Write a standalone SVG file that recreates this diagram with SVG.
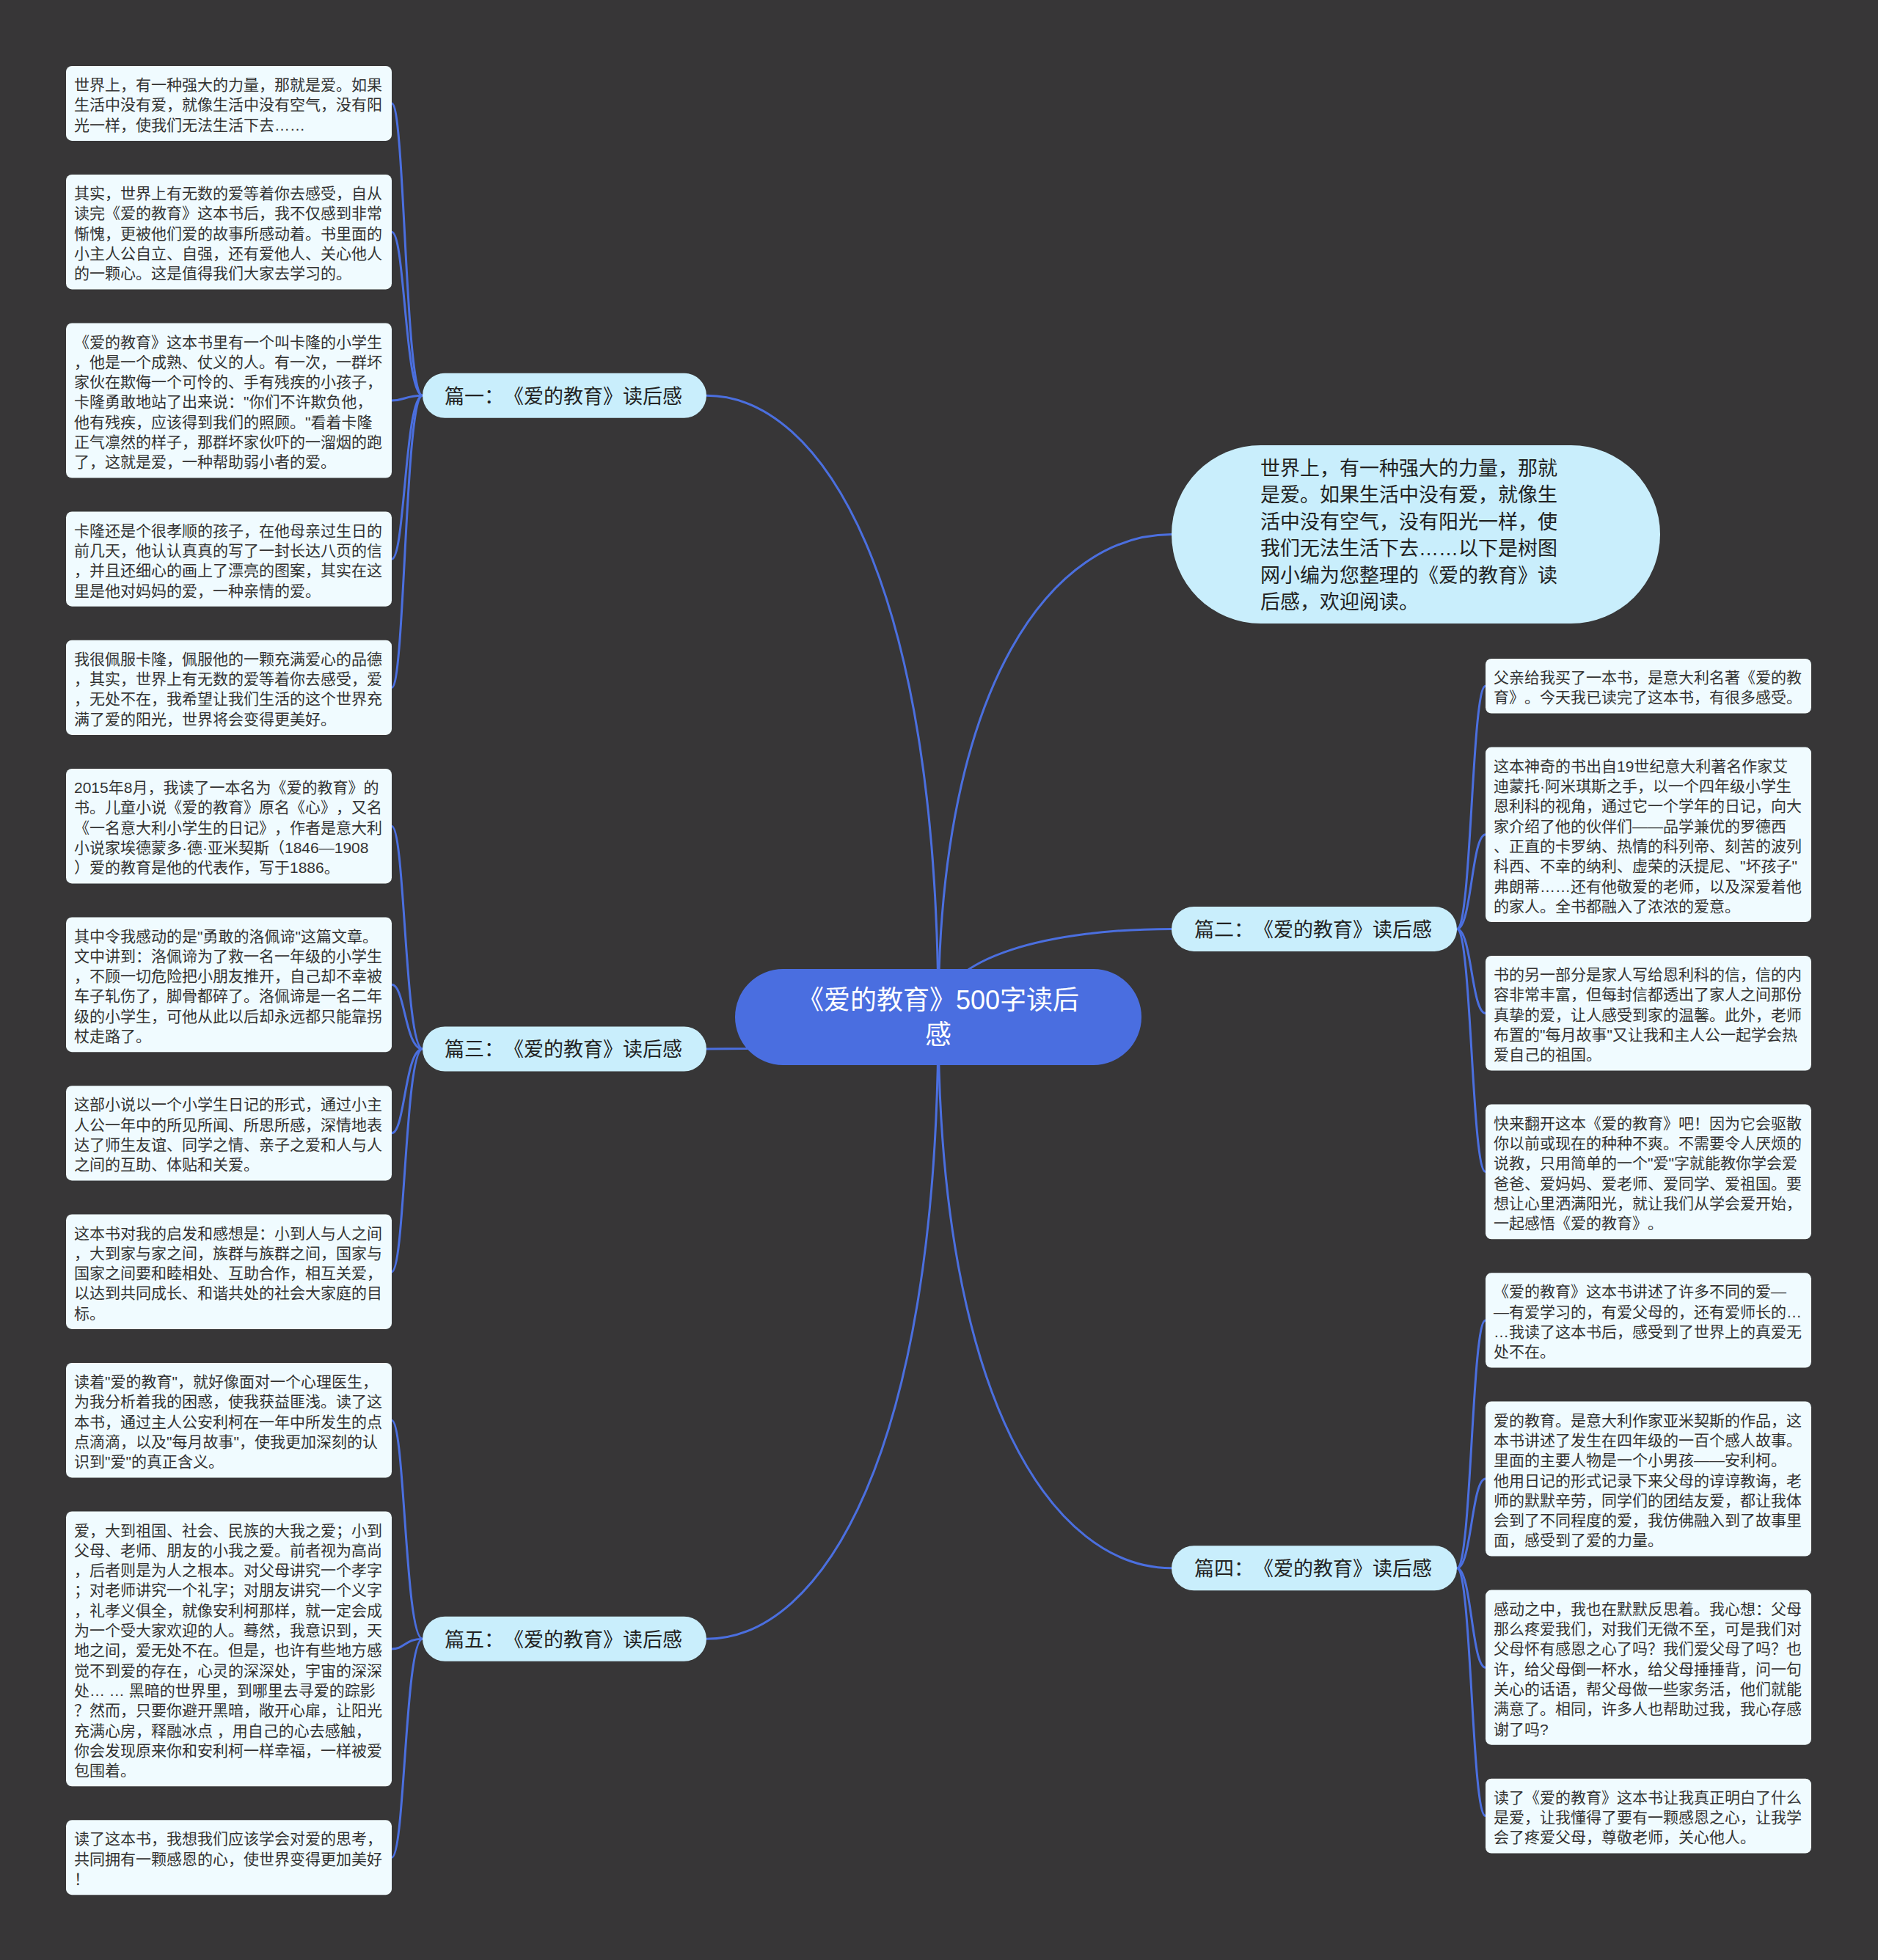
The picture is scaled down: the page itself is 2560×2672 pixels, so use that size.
<svg xmlns="http://www.w3.org/2000/svg" width="2560" height="2672" viewBox="0 0 2560 2672">
<style>
text{text-spacing-trim:space-all}
.bg{fill:#373637}
.lf{fill:#f0fbff}
.md{fill:#c9eefc}
.rt{fill:#4a6ee0}
.lt{font-family:"Liberation Sans","Noto Sans CJK SC",sans-serif;font-size:21px;fill:#333}
.mt{font-family:"Liberation Sans","Noto Sans CJK SC",sans-serif;font-size:27px;fill:#222}
.rtt{font-family:"Liberation Sans","Noto Sans CJK SC",sans-serif;font-size:36px;fill:#fff;text-anchor:middle}
.cn{fill:none;stroke:#4b6fdf;stroke-width:3}
</style>
<rect class="bg" x="0" y="0" width="2560" height="2672"/>
<g id="connectors">
<path class="cn" d="M963,539.2 C1121,539.2 1279,793.4 1279,1386.5"/>
<path class="cn" d="M1597,728.5 C1438,728.5 1279,926 1279,1386.5"/>
<path class="cn" d="M1597,1266.4 C1438,1266.4 1279,1302.4 1279,1386.5"/>
<path class="cn" d="M963,1430 C1121,1430 1279,1417 1279,1386.5"/>
<path class="cn" d="M1597,2137.8 C1438,2137.8 1279,1912.4 1279,1386.5"/>
<path class="cn" d="M963,2234.3 C1121,2234.3 1279,1980 1279,1386.5"/>
<path class="cn" d="M576,539.2 C552,539.2 552,141 534,141"/>
<path class="cn" d="M576,539.2 C552,539.2 552,316.2 534,316.2"/>
<path class="cn" d="M576,539.2 C552,539.2 552,546 534,546"/>
<path class="cn" d="M576,539.2 C552,539.2 552,762.1 534,762.1"/>
<path class="cn" d="M576,539.2 C552,539.2 552,937.3 534,937.3"/>
<path class="cn" d="M576,1430 C552,1430 552,1126.2 534,1126.2"/>
<path class="cn" d="M576,1430 C552,1430 552,1342.3 534,1342.3"/>
<path class="cn" d="M576,1430 C552,1430 552,1544.8 534,1544.8"/>
<path class="cn" d="M576,1430 C552,1430 552,1733.7 534,1733.7"/>
<path class="cn" d="M576,2234.3 C552,2234.3 552,1936.2 534,1936.2"/>
<path class="cn" d="M576,2234.3 C552,2234.3 552,2247.9 534,2247.9"/>
<path class="cn" d="M576,2234.3 C552,2234.3 552,2532.3 534,2532.3"/>
<path class="cn" d="M1986,1266.4 C2006,1266.4 2006,935.3 2025,935.3"/>
<path class="cn" d="M1986,1266.4 C2006,1266.4 2006,1137.8 2025,1137.8"/>
<path class="cn" d="M1986,1266.4 C2006,1266.4 2006,1381.3 2025,1381.3"/>
<path class="cn" d="M1986,1266.4 C2006,1266.4 2006,1597.4 2025,1597.4"/>
<path class="cn" d="M1986,2137.8 C2006,2137.8 2006,1799.9 2025,1799.9"/>
<path class="cn" d="M1986,2137.8 C2006,2137.8 2006,2016.1 2025,2016.1"/>
<path class="cn" d="M1986,2137.8 C2006,2137.8 2006,2273.2 2025,2273.2"/>
<path class="cn" d="M1986,2137.8 C2006,2137.8 2006,2475.6 2025,2475.6"/>
</g>
<g id="root">
<rect class="rt" x="1002" y="1321" width="554" height="131" rx="65.5"/>
<text class="rtt" x="1279" y="1376.3"><tspan x="1279">《爱的教育》500字读后</tspan><tspan x="1279" dy="46.8">感</tspan></text>
</g>
<g id="intro">
<rect class="md" x="1597" y="607" width="666" height="243" rx="121.5"/>
<text class="mt" x="1718" y="647.5"><tspan x="1718">世界上，有一种强大的力量，那就</tspan><tspan x="1718" dy="36.5">是爱。如果生活中没有爱，就像生</tspan><tspan x="1718" dy="36.5">活中没有空气，没有阳光一样，使</tspan><tspan x="1718" dy="36.5">我们无法生活下去……以下是树图</tspan><tspan x="1718" dy="36.5">网小编为您整理的《爱的教育》读</tspan><tspan x="1718" dy="36.5">后感，欢迎阅读。</tspan></text>
</g>
<g id="p1">
<rect class="md" x="576" y="508.7" width="387" height="61" rx="30.5"/>
<text class="mt" x="606" y="549.5">篇一：《爱的教育》读后感</text>
</g>
<g id="p3">
<rect class="md" x="576" y="1399.5" width="387" height="61" rx="30.5"/>
<text class="mt" x="606" y="1440.3">篇三：《爱的教育》读后感</text>
</g>
<g id="p5">
<rect class="md" x="576" y="2203.8" width="387" height="61" rx="30.5"/>
<text class="mt" x="606" y="2244.6">篇五：《爱的教育》读后感</text>
</g>
<g id="p2">
<rect class="md" x="1597" y="1235.9" width="389" height="61" rx="30.5"/>
<text class="mt" x="1628" y="1276.7">篇二：《爱的教育》读后感</text>
</g>
<g id="p4">
<rect class="md" x="1597" y="2107.3" width="389" height="61" rx="30.5"/>
<text class="mt" x="1628" y="2148.1">篇四：《爱的教育》读后感</text>
</g>
<g id="l1">
<rect class="lf" x="90" y="90" width="444" height="101.9" rx="8"/>
<text class="lt" x="101" y="123.15"><tspan x="101">世界上，有一种强大的力量，那就是爱。如果</tspan><tspan x="101" dy="27.3">生活中没有爱，就像生活中没有空气，没有阳</tspan><tspan x="101" dy="27.3">光一样，使我们无法生活下去……</tspan></text>
</g>
<g id="l2">
<rect class="lf" x="90" y="237.9" width="444" height="156.5" rx="8"/>
<text class="lt" x="101" y="271.05"><tspan x="101">其实，世界上有无数的爱等着你去感受，自从</tspan><tspan x="101" dy="27.3">读完《爱的教育》这本书后，我不仅感到非常</tspan><tspan x="101" dy="27.3">惭愧，更被他们爱的故事所感动着。书里面的</tspan><tspan x="101" dy="27.3">小主人公自立、自强，还有爱他人、关心他人</tspan><tspan x="101" dy="27.3">的一颗心。这是值得我们大家去学习的。</tspan></text>
</g>
<g id="l3">
<rect class="lf" x="90" y="440.4" width="444" height="211.1" rx="8"/>
<text class="lt" x="101" y="473.55"><tspan x="101">《爱的教育》这本书里有一个叫卡隆的小学生</tspan><tspan x="101" dy="27.3">，他是一个成熟、仗义的人。有一次，一群坏</tspan><tspan x="101" dy="27.3">家伙在欺侮一个可怜的、手有残疾的小孩子，</tspan><tspan x="101" dy="27.3">卡隆勇敢地站了出来说："你们不许欺负他，</tspan><tspan x="101" dy="27.3">他有残疾，应该得到我们的照顾。"看着卡隆</tspan><tspan x="101" dy="27.3">正气凛然的样子，那群坏家伙吓的一溜烟的跑</tspan><tspan x="101" dy="27.3">了，这就是爱，一种帮助弱小者的爱。</tspan></text>
</g>
<g id="l4">
<rect class="lf" x="90" y="697.5" width="444" height="129.2" rx="8"/>
<text class="lt" x="101" y="730.65"><tspan x="101">卡隆还是个很孝顺的孩子，在他母亲过生日的</tspan><tspan x="101" dy="27.3">前几天，他认认真真的写了一封长达八页的信</tspan><tspan x="101" dy="27.3">，并且还细心的画上了漂亮的图案，其实在这</tspan><tspan x="101" dy="27.3">里是他对妈妈的爱，一种亲情的爱。</tspan></text>
</g>
<g id="l5">
<rect class="lf" x="90" y="872.7" width="444" height="129.2" rx="8"/>
<text class="lt" x="101" y="905.85"><tspan x="101">我很佩服卡隆，佩服他的一颗充满爱心的品德</tspan><tspan x="101" dy="27.3">，其实，世界上有无数的爱等着你去感受，爱</tspan><tspan x="101" dy="27.3">，无处不在，我希望让我们生活的这个世界充</tspan><tspan x="101" dy="27.3">满了爱的阳光，世界将会变得更美好。</tspan></text>
</g>
<g id="l6">
<rect class="lf" x="90" y="1047.9" width="444" height="156.5" rx="8"/>
<text class="lt" x="101" y="1081.05"><tspan x="101">2015年8月，我读了一本名为《爱的教育》的</tspan><tspan x="101" dy="27.3">书。儿童小说《爱的教育》原名《心》，又名</tspan><tspan x="101" dy="27.3">《一名意大利小学生的日记》，作者是意大利</tspan><tspan x="101" dy="27.3">小说家埃德蒙多·德·亚米契斯（1846—1908</tspan><tspan x="101" dy="27.3">）爱的教育是他的代表作，写于1886。</tspan></text>
</g>
<g id="l7">
<rect class="lf" x="90" y="1250.4" width="444" height="183.8" rx="8"/>
<text class="lt" x="101" y="1283.55"><tspan x="101">其中令我感动的是"勇敢的洛佩谛"这篇文章。</tspan><tspan x="101" dy="27.3">文中讲到：洛佩谛为了救一名一年级的小学生</tspan><tspan x="101" dy="27.3">，不顾一切危险把小朋友推开，自己却不幸被</tspan><tspan x="101" dy="27.3">车子轧伤了，脚骨都碎了。洛佩谛是一名二年</tspan><tspan x="101" dy="27.3">级的小学生，可他从此以后却永远都只能靠拐</tspan><tspan x="101" dy="27.3">杖走路了。</tspan></text>
</g>
<g id="l8">
<rect class="lf" x="90" y="1480.2" width="444" height="129.2" rx="8"/>
<text class="lt" x="101" y="1513.35"><tspan x="101">这部小说以一个小学生日记的形式，通过小主</tspan><tspan x="101" dy="27.3">人公一年中的所见所闻、所思所感，深情地表</tspan><tspan x="101" dy="27.3">达了师生友谊、同学之情、亲子之爱和人与人</tspan><tspan x="101" dy="27.3">之间的互助、体贴和关爱。</tspan></text>
</g>
<g id="l9">
<rect class="lf" x="90" y="1655.4" width="444" height="156.5" rx="8"/>
<text class="lt" x="101" y="1688.55"><tspan x="101">这本书对我的启发和感想是：小到人与人之间</tspan><tspan x="101" dy="27.3">，大到家与家之间，族群与族群之间，国家与</tspan><tspan x="101" dy="27.3">国家之间要和睦相处、互助合作，相互关爱，</tspan><tspan x="101" dy="27.3">以达到共同成长、和谐共处的社会大家庭的目</tspan><tspan x="101" dy="27.3">标。</tspan></text>
</g>
<g id="l10">
<rect class="lf" x="90" y="1857.9" width="444" height="156.5" rx="8"/>
<text class="lt" x="101" y="1891.05"><tspan x="101">读着"爱的教育"，就好像面对一个心理医生，</tspan><tspan x="101" dy="27.3">为我分析着我的困惑，使我获益匪浅。读了这</tspan><tspan x="101" dy="27.3">本书，通过主人公安利柯在一年中所发生的点</tspan><tspan x="101" dy="27.3">点滴滴，以及"每月故事"，使我更加深刻的认</tspan><tspan x="101" dy="27.3">识到"爱"的真正含义。</tspan></text>
</g>
<g id="l11">
<rect class="lf" x="90" y="2060.4" width="444" height="374.9" rx="8"/>
<text class="lt" x="101" y="2093.55"><tspan x="101">爱，大到祖国、社会、民族的大我之爱；小到</tspan><tspan x="101" dy="27.3">父母、老师、朋友的小我之爱。前者视为高尚</tspan><tspan x="101" dy="27.3">，后者则是为人之根本。对父母讲究一个孝字</tspan><tspan x="101" dy="27.3">；对老师讲究一个礼字；对朋友讲究一个义字</tspan><tspan x="101" dy="27.3">，礼孝义俱全，就像安利柯那样，就一定会成</tspan><tspan x="101" dy="27.3">为一个受大家欢迎的人。蓦然，我意识到，天</tspan><tspan x="101" dy="27.3">地之间，爱无处不在。但是，也许有些地方感</tspan><tspan x="101" dy="27.3">觉不到爱的存在，心灵的深深处，宇宙的深深</tspan><tspan x="101" dy="27.3">处… … 黑暗的世界里，到哪里去寻爱的踪影</tspan><tspan x="101" dy="27.3">？然而，只要你避开黑暗，敞开心扉，让阳光</tspan><tspan x="101" dy="27.3">充满心房，释融冰点 ，用自己的心去感触，</tspan><tspan x="101" dy="27.3">你会发现原来你和安利柯一样幸福，一样被爱</tspan><tspan x="101" dy="27.3">包围着。</tspan></text>
</g>
<g id="l12">
<rect class="lf" x="90" y="2481.3" width="444" height="101.9" rx="8"/>
<text class="lt" x="101" y="2514.45"><tspan x="101">读了这本书，我想我们应该学会对爱的思考，</tspan><tspan x="101" dy="27.3">共同拥有一颗感恩的心，使世界变得更加美好</tspan><tspan x="101" dy="27.3">！</tspan></text>
</g>
<g id="r1">
<rect class="lf" x="2025" y="898" width="444" height="74.6" rx="8"/>
<text class="lt" x="2036" y="931.15"><tspan x="2036">父亲给我买了一本书，是意大利名著《爱的教</tspan><tspan x="2036" dy="27.3">育》。今天我已读完了这本书，有很多感受。</tspan></text>
</g>
<g id="r2">
<rect class="lf" x="2025" y="1018.6" width="444" height="238.4" rx="8"/>
<text class="lt" x="2036" y="1051.75"><tspan x="2036">这本神奇的书出自19世纪意大利著名作家艾</tspan><tspan x="2036" dy="27.3">迪蒙托·阿米琪斯之手，以一个四年级小学生</tspan><tspan x="2036" dy="27.3">恩利科的视角，通过它一个学年的日记，向大</tspan><tspan x="2036" dy="27.3">家介绍了他的伙伴们——品学兼优的罗德西</tspan><tspan x="2036" dy="27.3">、正直的卡罗纳、热情的科列帝、刻苦的波列</tspan><tspan x="2036" dy="27.3">科西、不幸的纳利、虚荣的沃提尼、"坏孩子"</tspan><tspan x="2036" dy="27.3">弗朗蒂……还有他敬爱的老师，以及深爱着他</tspan><tspan x="2036" dy="27.3">的家人。全书都融入了浓浓的爱意。</tspan></text>
</g>
<g id="r3">
<rect class="lf" x="2025" y="1303" width="444" height="156.5" rx="8"/>
<text class="lt" x="2036" y="1336.15"><tspan x="2036">书的另一部分是家人写给恩利科的信，信的内</tspan><tspan x="2036" dy="27.3">容非常丰富，但每封信都透出了家人之间那份</tspan><tspan x="2036" dy="27.3">真挚的爱，让人感受到家的温馨。此外，老师</tspan><tspan x="2036" dy="27.3">布置的"每月故事"又让我和主人公一起学会热</tspan><tspan x="2036" dy="27.3">爱自己的祖国。</tspan></text>
</g>
<g id="r4">
<rect class="lf" x="2025" y="1505.5" width="444" height="183.8" rx="8"/>
<text class="lt" x="2036" y="1538.65"><tspan x="2036">快来翻开这本《爱的教育》吧！因为它会驱散</tspan><tspan x="2036" dy="27.3">你以前或现在的种种不爽。不需要令人厌烦的</tspan><tspan x="2036" dy="27.3">说教，只用简单的一个"爱"字就能教你学会爱</tspan><tspan x="2036" dy="27.3">爸爸、爱妈妈、爱老师、爱同学、爱祖国。要</tspan><tspan x="2036" dy="27.3">想让心里洒满阳光，就让我们从学会爱开始，</tspan><tspan x="2036" dy="27.3">一起感悟《爱的教育》。</tspan></text>
</g>
<g id="r5">
<rect class="lf" x="2025" y="1735.3" width="444" height="129.2" rx="8"/>
<text class="lt" x="2036" y="1768.45"><tspan x="2036">《爱的教育》这本书讲述了许多不同的爱—</tspan><tspan x="2036" dy="27.3">—有爱学习的，有爱父母的，还有爱师长的…</tspan><tspan x="2036" dy="27.3">…我读了这本书后，感受到了世界上的真爱无</tspan><tspan x="2036" dy="27.3">处不在。</tspan></text>
</g>
<g id="r6">
<rect class="lf" x="2025" y="1910.5" width="444" height="211.1" rx="8"/>
<text class="lt" x="2036" y="1943.65"><tspan x="2036">爱的教育。是意大利作家亚米契斯的作品，这</tspan><tspan x="2036" dy="27.3">本书讲述了发生在四年级的一百个感人故事。</tspan><tspan x="2036" dy="27.3">里面的主要人物是一个小男孩——安利柯。</tspan><tspan x="2036" dy="27.3">他用日记的形式记录下来父母的谆谆教诲，老</tspan><tspan x="2036" dy="27.3">师的默默辛劳，同学们的团结友爱，都让我体</tspan><tspan x="2036" dy="27.3">会到了不同程度的爱，我仿佛融入到了故事里</tspan><tspan x="2036" dy="27.3">面，感受到了爱的力量。</tspan></text>
</g>
<g id="r7">
<rect class="lf" x="2025" y="2167.6" width="444" height="211.1" rx="8"/>
<text class="lt" x="2036" y="2200.75"><tspan x="2036">感动之中，我也在默默反思着。我心想：父母</tspan><tspan x="2036" dy="27.3">那么疼爱我们，对我们无微不至，可是我们对</tspan><tspan x="2036" dy="27.3">父母怀有感恩之心了吗？我们爱父母了吗？也</tspan><tspan x="2036" dy="27.3">许，给父母倒一杯水，给父母捶捶背，问一句</tspan><tspan x="2036" dy="27.3">关心的话语，帮父母做一些家务活，他们就能</tspan><tspan x="2036" dy="27.3">满意了。相同，许多人也帮助过我，我心存感</tspan><tspan x="2036" dy="27.3">谢了吗?</tspan></text>
</g>
<g id="r8">
<rect class="lf" x="2025" y="2424.7" width="444" height="101.9" rx="8"/>
<text class="lt" x="2036" y="2457.85"><tspan x="2036">读了《爱的教育》这本书让我真正明白了什么</tspan><tspan x="2036" dy="27.3">是爱，让我懂得了要有一颗感恩之心，让我学</tspan><tspan x="2036" dy="27.3">会了疼爱父母，尊敬老师，关心他人。</tspan></text>
</g>
</svg>
